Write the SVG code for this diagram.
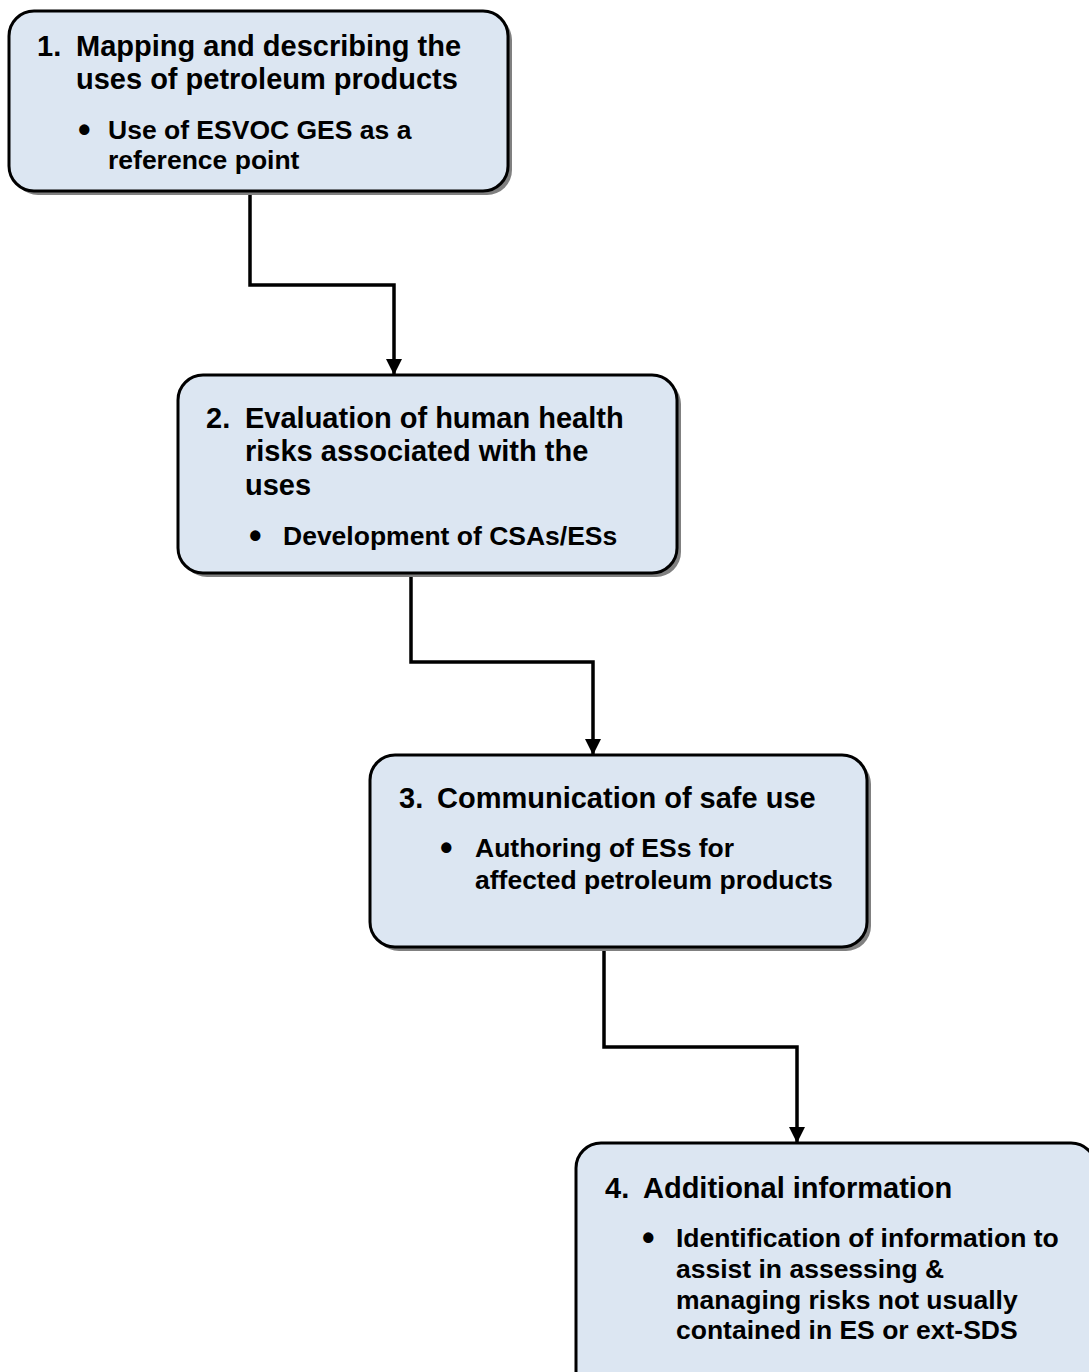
<svg xmlns="http://www.w3.org/2000/svg" width="1089" height="1372" viewBox="0 0 1089 1372">
<defs>
<style>
.shadow{fill:#808080;stroke:none}
.box{fill:#DCE6F2;stroke:#000;stroke-width:3}
.t{font-family:"Liberation Sans",Arial,sans-serif;font-weight:bold;font-size:29px;fill:#000}
.b{font-family:"Liberation Sans",Arial,sans-serif;font-weight:bold;font-size:26.5px;fill:#000}
.dot{font-size:36px}
.conn{fill:none;stroke:#000;stroke-width:3.5}
</style>
<marker id="arrow" markerWidth="16" markerHeight="16" refX="15" refY="8" orient="auto" markerUnits="userSpaceOnUse">
<path d="M0,0 L16,8 L0,16 Z" fill="#000"/>
</marker>
</defs>
<rect width="1089" height="1372" fill="#fff"/>
<g id="connectors">
<path class="conn" d="M250,192 V285 H394 V374" marker-end="url(#arrow)"/>
<path class="conn" d="M411,573 V662 H593 V754" marker-end="url(#arrow)"/>
<path class="conn" d="M604,947 V1047 H797 V1142" marker-end="url(#arrow)"/>
</g>
<g id="node1">
<rect class="shadow" x="13" y="15" width="499" height="180" rx="25"/>
<rect class="box" x="9" y="11" width="499" height="180" rx="25"/>
<text class="t"><tspan x="37" y="56">1.</tspan><tspan x="76" y="56">Mapping and describing the</tspan><tspan x="76" y="89">uses of petroleum products</tspan></text>
<text class="b"><tspan class="dot" x="78" y="142">•</tspan><tspan x="108" y="139">Use of ESVOC GES as a</tspan><tspan x="108" y="169">reference point</tspan></text>
</g>
<g id="node2">
<rect class="shadow" x="182" y="379" width="499" height="198" rx="25"/>
<rect class="box" x="178" y="375" width="499" height="198" rx="25"/>
<text class="t"><tspan x="206" y="428">2.</tspan><tspan x="245" y="428">Evaluation of human health</tspan><tspan x="245" y="461">risks associated with the</tspan><tspan x="245" y="495">uses</tspan></text>
<text class="b"><tspan class="dot" x="249" y="548">•</tspan><tspan x="283" y="545">Development of CSAs/ESs</tspan></text>
</g>
<g id="node3">
<rect class="shadow" x="374" y="759" width="497" height="192" rx="25"/>
<rect class="box" x="370" y="755" width="497" height="192" rx="25"/>
<text class="t"><tspan x="399" y="808">3.</tspan><tspan x="437" y="808">Communication of safe use</tspan></text>
<text class="b"><tspan class="dot" x="440" y="860">•</tspan><tspan x="475" y="857">Authoring of ESs for</tspan><tspan x="475" y="889">affected petroleum products</tspan></text>
</g>
<g id="node4">
<rect class="shadow" x="580" y="1147" width="520" height="260" rx="25"/>
<rect class="box" x="576" y="1143" width="520" height="260" rx="25"/>
<text class="t"><tspan x="605" y="1198">4.</tspan><tspan x="643" y="1198">Additional information</tspan></text>
<text class="b"><tspan class="dot" x="642" y="1250">•</tspan><tspan x="676" y="1247">Identification of information to</tspan><tspan x="676" y="1278">assist in assessing &amp;</tspan><tspan x="676" y="1309">managing risks not usually</tspan><tspan x="676" y="1339">contained in ES or ext-SDS</tspan></text>
</g>
</svg>
